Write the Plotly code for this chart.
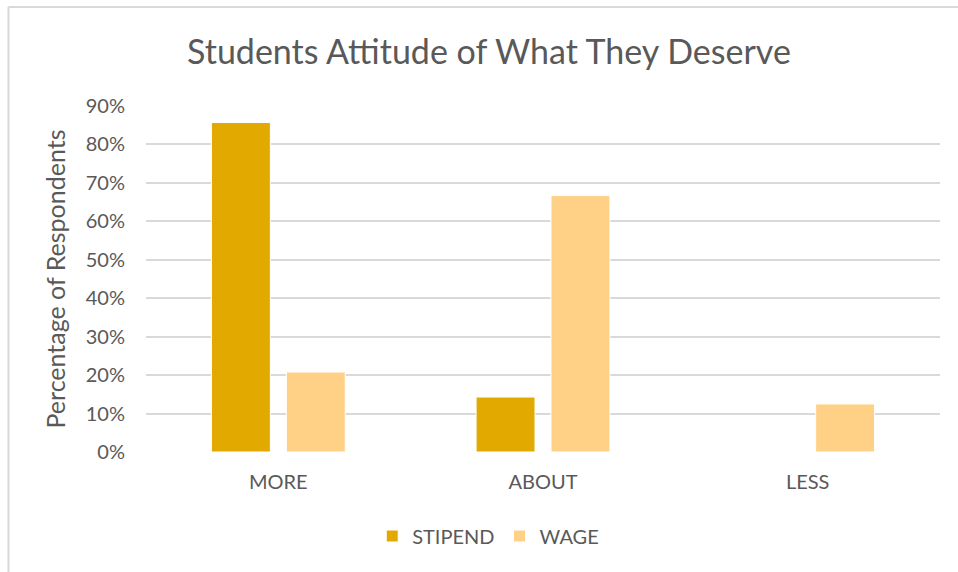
import plotly.graph_objects as go

# Survey responses: share of students by what they think they deserve
categories = ["MORE", "ABOUT", "LESS"]
stipend = [0.857, 0.143, 0.0]
wage = [0.208, 0.667, 0.125]
y_ticks = [0, 0.1, 0.2, 0.3, 0.4, 0.5, 0.6, 0.7, 0.8, 0.9]

FONT = "Lato, 'Open Sans', sans-serif"
GREY = "#595959"

fig = go.Figure()
fig.add_trace(go.Bar(
    name="STIPEND", x=categories, y=stipend,
    marker=dict(color="#E2AA00", line=dict(color="#FFFFFF", width=1)),
))
fig.add_trace(go.Bar(
    name="WAGE", x=categories, y=wage,
    marker=dict(color="#FFD186", line=dict(color="#FFFFFF", width=1)),
))

fig.update_layout(
    width=958, height=572,
    margin=dict(l=146, r=18, t=106, b=120),
    paper_bgcolor="white", plot_bgcolor="white",
    barmode="group", bargap=0.434, bargroupgap=0.213,
    font=dict(family=FONT, color=GREY),
    title=dict(
        text="Students Attitude of What They Deserve",
        x=0.5104, xanchor="center", y=0.909, yanchor="middle",
        font=dict(size=34, color=GREY, family=FONT),
    ),
    legend=dict(
        orientation="h", x=0.431, xanchor="center",
        y=-0.2428, yanchor="middle",
        font=dict(size=20, color=GREY),
        itemwidth=30, tracegroupgap=0,
    ),
    showlegend=True,
)

fig.update_xaxes(
    showgrid=False, showline=False, zeroline=False,
    ticks="", ticklabelstandoff=16,
    tickfont=dict(size=20, color=GREY),
)
fig.update_yaxes(
    range=[0, 0.9], tickvals=y_ticks, tickformat=".0%",
    showgrid=True, gridcolor="#D9D9D9", gridwidth=1.5,
    zeroline=False, showline=False, ticks="", ticklabelstandoff=20,
    tickfont=dict(size=20, color=GREY),
    title=dict(text="Percentage of Respondents", standoff=13,
               font=dict(size=25, color=GREY)),
)

# Chart frame (top and left edges)
fig.add_shape(type="line", xref="paper", yref="paper",
              x0=-0.1732, x1=1.03, y0=1.2861, y1=1.2861,
              line=dict(color="#D9D9D9", width=2))
fig.add_shape(type="line", xref="paper", yref="paper",
              x0=-0.1732, x1=-0.1732, y0=1.2861, y1=-0.36,
              line=dict(color="#D9D9D9", width=2))

fig.write_html("out.html")
